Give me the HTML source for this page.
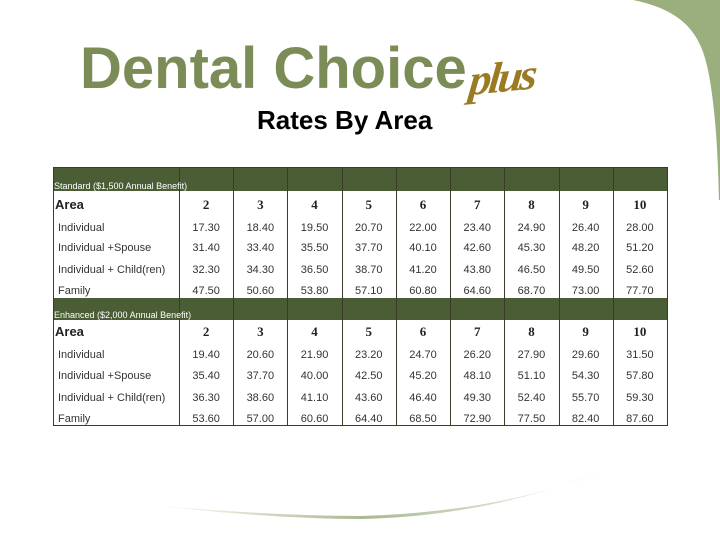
<!DOCTYPE html>
<html><head><meta charset="utf-8">
<style>
body{margin:0;width:720px;height:540px;overflow:hidden;background:#fff;position:relative;font-family:"Liberation Sans",sans-serif}
.abs{position:absolute}
#title{left:80px;top:35px;font-size:58px;font-weight:bold;color:#7b8c57;white-space:nowrap;letter-spacing:0px}
#plus{left:470px;top:52px;font-family:"Liberation Serif",serif;font-style:italic;font-weight:bold;font-size:44px;color:#9a7a22;transform:skewX(-12deg) rotate(-6deg);letter-spacing:-3px}
#sub{left:257px;top:105px;font-size:26px;font-weight:bold;color:#000}
.cell{position:absolute;font-size:11px;color:#333;white-space:nowrap;line-height:12px}
.band{position:absolute;background:#4b5d35}
.vl{position:absolute;width:1px;background:#3b3b2a}
.hl{position:absolute;height:1px;background:#3b3b2a}
</style></head><body>
<svg class="abs" style="left:0;top:0" width="720" height="540">
<defs><linearGradient id="sw" x1="0" x2="1"><stop offset="0" stop-color="#fff"/><stop offset="0.45" stop-color="#a9b98f"/><stop offset="1" stop-color="#fff"/></linearGradient></defs>
<path d="M633,0 C680,10 700,30 708,70 C716,110 718,160 719,200 L720,200 L720,0 Z" fill="#9aae7e"/>
<path d="M150,505 C230,514 300,519 360,519 C470,517 560,490 625,462 C560,492 470,513 360,516 C300,516 230,512 150,505 Z" fill="url(#sw)"/>
</svg>
<div id="title" class="abs">Dental Choice</div>
<div id="plus" class="abs">plus</div>
<div id="sub" class="abs">Rates By Area</div>
<div id="tbl" class="abs" style="left:0;top:0;width:720px;height:540px"></div>
<script>
const areas=["2","3","4","5","6","7","8","9","10"];
const rowLabels=["Individual","Individual +Spouse","Individual + Child(ren)","Family"];
const standard=[
["17.30","18.40","19.50","20.70","22.00","23.40","24.90","26.40","28.00"],
["31.40","33.40","35.50","37.70","40.10","42.60","45.30","48.20","51.20"],
["32.30","34.30","36.50","38.70","41.20","43.80","46.50","49.50","52.60"],
["47.50","50.60","53.80","57.10","60.80","64.60","68.70","73.00","77.70"]];
const enhanced=[
["19.40","20.60","21.90","23.20","24.70","26.20","27.90","29.60","31.50"],
["35.40","37.70","40.00","42.50","45.20","48.10","51.10","54.30","57.80"],
["36.30","38.60","41.10","43.60","46.40","49.30","52.40","55.70","59.30"],
["53.60","57.00","60.60","64.40","68.50","72.90","77.50","82.40","87.60"]];
const bandTitles=["Standard ($1,500 Annual Benefit)","Enhanced ($2,000 Annual Benefit)"];
const T=document.getElementById('tbl');
const L=53,R=667,C0=179,CW=(R-C0)/9;
function add(cls,st,txt){const d=document.createElement('div');d.className=cls;Object.assign(d.style,st);if(txt!==undefined)d.textContent=txt;T.appendChild(d);return d;}
const sections=[{top:167,bandH:24,headY:199,rows:[222,242,264,285],data:standard},
{top:298,bandH:22,headY:326,rows:[349,370,392,413],data:enhanced}];
sections.forEach((s,si)=>{
 const b=add('band',{left:L+'px',top:s.top+'px',width:(R-L)+'px',height:s.bandH+'px'});
 
 
 const bt=add('cell',{left:'54px',top:(s.top+s.bandH-11)+'px',fontSize:'9px',color:'#fff',zIndex:2},bandTitles[si]);
 
 
 const ah=add('cell',{left:'55px',top:s.headY+'px',fontSize:'13px',fontWeight:'bold',color:'#222'},'Area');
 
 
 areas.forEach((a,i)=>{
  const h=add('cell',{left:(C0+i*CW)+'px',width:CW+'px',textAlign:'center',top:s.headY+'px',fontSize:'13px',fontWeight:'bold',fontFamily:'"Liberation Serif",serif',color:'#222'},a);
  
  
 });
 rowLabels.forEach((r,ri)=>{
  const l=add('cell',{left:'58px',top:s.rows[ri]+'px'},r);
  
  
  s.data[ri].forEach((v,ci)=>{
   const c=add('cell',{left:(C0+ci*CW)+'px',width:CW+'px',textAlign:'center',top:s.rows[ri]+'px'},v);
   
   
  });
 });
});
for(let i=0;i<=9;i++){const v=add('vl',{left:(C0+i*CW)+'px',top:'167px',height:'258px'});}
[L].forEach(x=>{const v=add('vl',{left:x+'px',top:'167px',height:'258px'});});
[167,425].forEach(y=>{const h=add('hl',{left:L+'px',top:y+'px',width:(R-L+1)+'px'});});
</script>
</body></html>
